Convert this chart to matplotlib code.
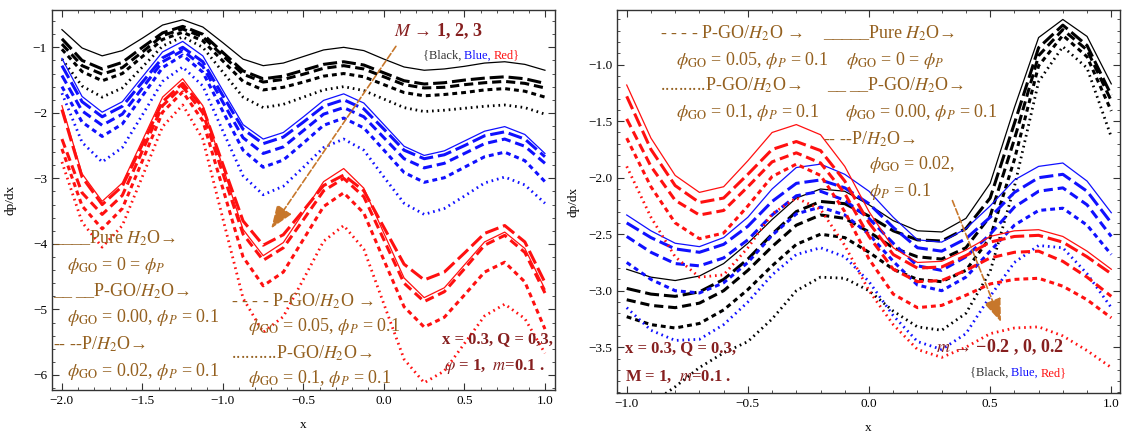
import matplotlib.pyplot as plt
from matplotlib.ticker import MultipleLocator, FuncFormatter

plt.rcParams['font.family'] = ['Liberation Serif', 'DejaVu Serif']
plt.rcParams['mathtext.fontset'] = 'stix'

# ---- left panel: M = 1, 2, 3 (black, blue, red) ----
x_left = [-2.0, -1.875, -1.75, -1.625, -1.5, -1.375, -1.25, -1.125, -1.0, -0.875, -0.75, -0.625,
          -0.5, -0.375, -0.25, -0.125, 0.0, 0.125, 0.25, 0.375, 0.5, 0.625, 0.75, 0.875, 1.0]

l_black_pure = [-0.73, -1.01, -1.13, -1.05, -0.86, -0.66, -0.58, -0.69, -0.93, -1.18, -1.28, -1.24, -1.14, -1.04, -1.00, -1.05, -1.18, -1.30, -1.35, -1.33, -1.29, -1.24, -1.22, -1.26, -1.35]
l_black_go000 = [-0.87, -1.20, -1.33, -1.23, -1.00, -0.78, -0.68, -0.80, -1.08, -1.36, -1.48, -1.44, -1.35, -1.26, -1.22, -1.27, -1.39, -1.51, -1.56, -1.54, -1.50, -1.47, -1.45, -1.48, -1.55]
l_black_p002 = [-0.95, -1.28, -1.41, -1.31, -1.07, -0.82, -0.72, -0.84, -1.13, -1.41, -1.53, -1.49, -1.41, -1.32, -1.28, -1.33, -1.45, -1.57, -1.62, -1.61, -1.57, -1.54, -1.52, -1.55, -1.62]
l_black_go005 = [-1.03, -1.37, -1.51, -1.40, -1.14, -0.88, -0.77, -0.90, -1.21, -1.52, -1.65, -1.61, -1.53, -1.44, -1.40, -1.45, -1.57, -1.69, -1.74, -1.72, -1.69, -1.65, -1.63, -1.67, -1.76]
l_black_go01 = [-1.18, -1.59, -1.76, -1.62, -1.30, -0.98, -0.84, -1.00, -1.38, -1.76, -1.92, -1.87, -1.76, -1.65, -1.60, -1.66, -1.79, -1.92, -1.98, -1.96, -1.93, -1.90, -1.88, -1.92, -2.02]

l_blue_pure = [-1.17, -1.75, -1.99, -1.83, -1.45, -1.07, -0.91, -1.13, -1.66, -2.18, -2.40, -2.30, -2.06, -1.81, -1.71, -1.85, -2.18, -2.51, -2.65, -2.58, -2.43, -2.28, -2.21, -2.33, -2.62]
l_blue_go000 = [-1.28, -1.83, -2.06, -1.90, -1.53, -1.16, -1.00, -1.22, -1.74, -2.25, -2.47, -2.37, -2.14, -1.90, -1.80, -1.94, -2.25, -2.57, -2.70, -2.64, -2.50, -2.35, -2.29, -2.40, -2.67]
l_blue_p002 = [-1.43, -1.97, -2.19, -2.02, -1.62, -1.22, -1.05, -1.29, -1.84, -2.38, -2.62, -2.52, -2.27, -2.02, -1.92, -2.06, -2.38, -2.70, -2.84, -2.77, -2.62, -2.47, -2.40, -2.51, -2.77]
l_blue_go005 = [-1.60, -2.14, -2.36, -2.17, -1.74, -1.31, -1.12, -1.38, -1.98, -2.57, -2.83, -2.72, -2.46, -2.19, -2.08, -2.23, -2.57, -2.91, -3.06, -2.99, -2.83, -2.67, -2.60, -2.73, -3.05]
l_blue_go01 = [-1.70, -2.45, -2.75, -2.53, -2.03, -1.52, -1.30, -1.59, -2.28, -2.96, -3.25, -3.12, -2.83, -2.53, -2.40, -2.57, -2.98, -3.38, -3.55, -3.46, -3.27, -3.07, -2.98, -3.10, -3.38]

l_red_pure = [-1.89, -2.93, -3.35, -3.07, -2.42, -1.76, -1.48, -1.89, -2.83, -3.78, -4.18, -3.98, -3.52, -3.05, -2.85, -3.15, -3.84, -4.52, -4.82, -4.67, -4.32, -3.97, -3.82, -4.07, -4.69]
l_red_go000 = [-1.95, -2.98, -3.40, -3.12, -2.48, -1.83, -1.55, -1.92, -2.79, -3.65, -4.02, -3.86, -3.49, -3.11, -2.95, -3.19, -3.75, -4.31, -4.55, -4.43, -4.14, -3.84, -3.72, -3.97, -4.59]
l_red_p002 = [-2.40, -3.22, -3.55, -3.26, -2.58, -1.89, -1.60, -2.00, -2.93, -3.85, -4.25, -4.06, -3.63, -3.19, -3.00, -3.28, -3.94, -4.60, -4.88, -4.73, -4.38, -4.02, -3.87, -4.13, -4.75]
l_red_go005 = [-2.55, -3.42, -3.77, -3.46, -2.73, -1.99, -1.68, -2.12, -3.16, -4.20, -4.64, -4.43, -3.93, -3.43, -3.22, -3.53, -4.25, -4.96, -5.27, -5.12, -4.78, -4.43, -4.28, -4.58, -5.30]
l_red_go01 = [-2.75, -3.67, -4.05, -3.72, -2.97, -2.21, -1.88, -2.40, -3.62, -4.83, -5.35, -5.11, -4.54, -3.96, -3.72, -4.08, -4.92, -5.76, -6.12, -5.94, -5.52, -5.10, -4.92, -5.14, -5.67]

# ---- right panel: m = -0.2, 0, 0.2 (black, blue, red) ----
x_right = [-1.0, -0.9, -0.8, -0.7, -0.6, -0.5, -0.4, -0.3, -0.2, -0.1, 0.0,
           0.1, 0.2, 0.3, 0.4, 0.5, 0.6, 0.7, 0.8, 0.9, 1.0]

r_black_pure = [-2.81, -2.88, -2.91, -2.87, -2.76, -2.58, -2.37, -2.18, -2.10, -2.12, -2.24, -2.38, -2.47, -2.48, -2.36, -2.05, -1.38, -0.76, -0.60, -0.75, -1.17]
r_black_go000 = [-2.98, -3.03, -3.05, -3.01, -2.90, -2.72, -2.50, -2.30, -2.21, -2.23, -2.34, -2.47, -2.55, -2.56, -2.45, -2.18, -1.52, -0.85, -0.65, -0.83, -1.27]
r_black_p002 = [-3.08, -3.13, -3.15, -3.11, -3.00, -2.82, -2.61, -2.42, -2.33, -2.36, -2.48, -2.62, -2.70, -2.72, -2.62, -2.34, -1.66, -0.92, -0.69, -0.87, -1.32]
r_black_go005 = [-3.23, -3.30, -3.33, -3.29, -3.17, -2.99, -2.78, -2.59, -2.50, -2.53, -2.66, -2.81, -2.90, -2.92, -2.82, -2.53, -1.84, -1.01, -0.74, -0.93, -1.41]
r_black_go01 = [-4.10, -4.00, -3.85, -3.68, -3.55, -3.45, -3.25, -3.00, -2.88, -2.89, -3.00, -3.18, -3.32, -3.35, -3.20, -2.83, -2.08, -1.15, -0.84, -1.03, -1.64]

r_blue_pure = [-2.33, -2.47, -2.58, -2.61, -2.53, -2.35, -2.10, -1.91, -1.88, -1.97, -2.12, -2.35, -2.55, -2.57, -2.45, -2.25, -2.02, -1.90, -1.87, -2.03, -2.31]
r_blue_go000 = [-2.40, -2.53, -2.63, -2.66, -2.59, -2.43, -2.21, -2.05, -2.02, -2.09, -2.23, -2.44, -2.62, -2.65, -2.54, -2.35, -2.13, -2.00, -1.97, -2.12, -2.40]
r_blue_p002 = [-2.52, -2.66, -2.76, -2.78, -2.71, -2.55, -2.33, -2.16, -2.12, -2.20, -2.36, -2.58, -2.78, -2.82, -2.70, -2.50, -2.26, -2.12, -2.09, -2.24, -2.52]
r_blue_go005 = [-2.75, -2.90, -3.00, -3.02, -2.93, -2.75, -2.51, -2.32, -2.26, -2.33, -2.50, -2.74, -2.95, -3.00, -2.88, -2.65, -2.42, -2.29, -2.27, -2.42, -2.68]
r_blue_go01 = [-3.15, -3.35, -3.44, -3.43, -3.30, -3.10, -2.86, -2.68, -2.62, -2.70, -2.92, -3.22, -3.45, -3.52, -3.38, -3.05, -2.75, -2.60, -2.62, -2.85, -3.15]

r_red_pure = [-1.18, -1.65, -1.98, -2.13, -2.08, -1.85, -1.60, -1.53, -1.62, -1.90, -2.30, -2.62, -2.75, -2.74, -2.64, -2.52, -2.47, -2.46, -2.52, -2.65, -2.81]
r_red_go000 = [-1.28, -1.75, -2.07, -2.22, -2.18, -1.97, -1.75, -1.68, -1.76, -2.03, -2.40, -2.68, -2.80, -2.79, -2.69, -2.57, -2.52, -2.51, -2.57, -2.70, -2.85]
r_red_p002 = [-1.48, -1.90, -2.20, -2.33, -2.29, -2.08, -1.86, -1.78, -1.87, -2.14, -2.52, -2.81, -2.92, -2.91, -2.82, -2.71, -2.66, -2.65, -2.74, -2.88, -3.05]
r_red_go005 = [-1.65, -2.08, -2.40, -2.54, -2.49, -2.25, -1.99, -1.88, -1.98, -2.30, -2.72, -3.03, -3.15, -3.13, -3.04, -2.94, -2.90, -2.89, -2.96, -3.08, -3.24]
r_red_go01 = [-1.90, -2.35, -2.70, -2.88, -2.86, -2.62, -2.32, -2.18, -2.28, -2.60, -3.00, -3.30, -3.52, -3.59, -3.50, -3.38, -3.33, -3.32, -3.40, -3.53, -3.68]

# line style per nanofluid case
styles = {
    'pure': dict(linestyle='-', linewidth=0.9),
    'go000': dict(linestyle=(0, (4.6, 1.6)), linewidth=2.2),
    'p002': dict(linestyle=(0, (3.0, 1.6)), linewidth=2.2),
    'go005': dict(linestyle=(0, (1.6, 1.3)), linewidth=2.2),
    'go01': dict(linestyle=(0, (0.6, 1.4)), linewidth=2.0),
}

left_curves = [
    ('black', 'pure', l_black_pure), ('black', 'go000', l_black_go000), ('black', 'p002', l_black_p002),
    ('black', 'go005', l_black_go005), ('black', 'go01', l_black_go01),
    ('blue', 'pure', l_blue_pure), ('blue', 'go000', l_blue_go000), ('blue', 'p002', l_blue_p002),
    ('blue', 'go005', l_blue_go005), ('blue', 'go01', l_blue_go01),
    ('red', 'pure', l_red_pure), ('red', 'go000', l_red_go000), ('red', 'p002', l_red_p002),
    ('red', 'go005', l_red_go005), ('red', 'go01', l_red_go01),
]
right_curves = [
    ('black', 'pure', r_black_pure), ('black', 'go000', r_black_go000), ('black', 'p002', r_black_p002),
    ('black', 'go005', r_black_go005), ('black', 'go01', r_black_go01),
    ('blue', 'pure', r_blue_pure), ('blue', 'go000', r_blue_go000), ('blue', 'p002', r_blue_p002),
    ('blue', 'go005', r_blue_go005), ('blue', 'go01', r_blue_go01),
    ('red', 'pure', r_red_pure), ('red', 'go000', r_red_go000), ('red', 'p002', r_red_p002),
    ('red', 'go005', r_red_go005), ('red', 'go01', r_red_go01),
]

brown = '#94601F'
maroon = '#861F1F'
arrow_c = '#C7772B'
lcol = {'black': 'black', 'blue': '#1010FF', 'red': '#FF1010'}

fig = plt.figure(figsize=(11.27, 4.34), dpi=100)
ax1 = fig.add_axes([0.0461, 0.1014, 0.4463, 0.8756])
ax2 = fig.add_axes([0.5475, 0.0945, 0.4463, 0.8825])

for c, key, y in left_curves:
    ax1.plot(x_left, y, color=lcol[c], **styles[key])
for c, key, y in right_curves:
    ax2.plot(x_right, y, color=lcol[c], **styles[key])

ax1.set_xlim(-2.062, 1.062)
ax1.set_ylim(-6.23, -0.43)
ax2.set_xlim(-1.04, 1.036)
ax2.set_ylim(-3.905, -0.516)

fmt1 = FuncFormatter(lambda v, p: f'{v:.1f}'.replace('-', '\u2212'))
fmt0 = FuncFormatter(lambda v, p: f'{v:.0f}'.replace('-', '\u2212'))

ax1.xaxis.set_major_locator(MultipleLocator(0.5))
ax1.xaxis.set_minor_locator(MultipleLocator(0.1))
ax1.yaxis.set_major_locator(MultipleLocator(1))
ax1.yaxis.set_minor_locator(MultipleLocator(0.2))
ax1.xaxis.set_major_formatter(fmt1)
ax1.yaxis.set_major_formatter(fmt0)
ax2.xaxis.set_major_locator(MultipleLocator(0.5))
ax2.xaxis.set_minor_locator(MultipleLocator(0.1))
ax2.yaxis.set_major_locator(MultipleLocator(0.5))
ax2.yaxis.set_minor_locator(MultipleLocator(0.1))
ax2.xaxis.set_major_formatter(fmt1)
ax2.yaxis.set_major_formatter(fmt1)

for ax in (ax1, ax2):
    ax.tick_params(which='both', direction='in', top=True, right=True, labelsize=9.5, color='#333333')
    ax.tick_params(which='major', length=5, width=0.8)
    ax.tick_params(which='minor', length=2.5, width=0.6)
    for sp in ax.spines.values():
        sp.set_linewidth(1.0)
        sp.set_color('#333333')
    ax.set_xlabel('x', fontsize=9.5, labelpad=9)
ax1.set_ylabel('dp/dx', fontsize=9.5, labelpad=12)
ax2.set_ylabel('dp/dx', fontsize=9.5, labelpad=6)


def color_list(ax, x, y, size):
    # "{Black, Blue, Red}" written word by word in its colour
    t = ax.text(x, y, '{Black, ', color='#333333', fontsize=size, va='bottom')
    t = ax.annotate('Blue, ', xy=(1, 0), xycoords=t, color='#1010FF', fontsize=size, va='bottom')
    ax.annotate('Red}', xy=(1, 0), xycoords=t, color='#FF1010', fontsize=size, va='bottom')


fs = 13
# left panel annotations
ax1.text(0.062, -0.75, '$M$ → 1, 2, 3', color=maroon, fontsize=13, fontweight='bold', va='center')
color_list(ax1, 0.24, -1.22, 9)
ax1.annotate('', xy=(-0.71, -3.80), xytext=(0.084, -0.95),
             arrowprops=dict(arrowstyle='-|>,head_length=0.8,head_width=0.3', linestyle='--',
                             color=arrow_c, lw=1.2, mutation_scale=18))

ax1.text(-2.057, -3.92, '____Pure $H_2$O→', color=brown, fontsize=fs, va='center')
ax1.text(-1.967, -4.33, r'$\phi_{\mathrm{GO}}$ = 0 = $\phi_P$', color=brown, fontsize=fs, va='center')
ax1.text(-2.057, -4.72, '__ __P-GO/$H_2$O→', color=brown, fontsize=fs, va='center')
ax1.text(-1.967, -5.13, r'$\phi_{\mathrm{GO}}$ = 0.00, $\phi_P$ = 0.1', color=brown, fontsize=fs, va='center')
ax1.text(-2.057, -5.54, '-- --P/$H_2$O→', color=brown, fontsize=fs, va='center')
ax1.text(-1.967, -5.95, r'$\phi_{\mathrm{GO}}$ = 0.02, $\phi_P$ = 0.1', color=brown, fontsize=fs, va='center')
ax1.text(-0.947, -4.87, '- - - - P-GO/$H_2$O →', color=brown, fontsize=fs, va='center')
ax1.text(-0.847, -5.26, r'$\phi_{\mathrm{GO}}$ = 0.05, $\phi_P$ = 0.1', color=brown, fontsize=fs, va='center')
ax1.text(-0.947, -5.67, '..........P-GO/$H_2$O→', color=brown, fontsize=fs, va='center')
ax1.text(-0.847, -6.05, r'$\phi_{\mathrm{GO}}$ = 0.1, $\phi_P$ = 0.1', color=brown, fontsize=fs, va='center')
ax1.text(0.361, -5.46, 'x = 0.3, Q = 0,3,', color=maroon, fontsize=12, fontweight='bold', va='center')
ax1.text(0.372, -5.87, r'$\varphi$ = 1,  $m$=0.1 .', color=maroon, fontsize=12, fontweight='bold', va='center')

# right panel annotations
ax2.text(-0.861, -0.724, '- - - - P-GO/$H_2$O →', color=brown, fontsize=fs, va='center')
ax2.text(-0.796, -0.96, r'$\phi_{\mathrm{GO}}$ = 0.05, $\phi_P$ = 0.1', color=brown, fontsize=fs, va='center')
ax2.text(-0.861, -1.18, '..........P-GO/$H_2$O→', color=brown, fontsize=fs, va='center')
ax2.text(-0.796, -1.42, r'$\phi_{\mathrm{GO}}$ = 0.1, $\phi_P$ = 0.1', color=brown, fontsize=fs, va='center')
ax2.text(-0.19, -0.724, '_____Pure $H_2$O→', color=brown, fontsize=fs, va='center')
ax2.text(-0.095, -0.96, r'$\phi_{\mathrm{GO}}$ = 0 = $\phi_P$', color=brown, fontsize=fs, va='center')
ax2.text(-0.175, -1.18, '__ __P-GO/$H_2$O→', color=brown, fontsize=fs, va='center')
ax2.text(-0.10, -1.42, r'$\phi_{\mathrm{GO}}$ = 0.00, $\phi_P$ = 0.1', color=brown, fontsize=fs, va='center')
ax2.text(-0.19, -1.66, '-- --P/$H_2$O→', color=brown, fontsize=fs, va='center')
ax2.text(0.0, -1.88, r'$\phi_{\mathrm{GO}}$ = 0.02,', color=brown, fontsize=fs, va='center')
ax2.text(0.0, -2.12, r'$\phi_P$ = 0.1', color=brown, fontsize=fs, va='center')
ax2.text(0.277, -3.50, '$m$ → −0.2 , 0, 0.2', color=maroon, fontsize=13, fontweight='bold', va='center')
color_list(ax2, 0.416, -3.78, 9)
ax2.text(-1.007, -3.51, 'x = 0.3, Q = 0.3,', color=maroon, fontsize=12, fontweight='bold', va='center')
ax2.text(-1.007, -3.76, 'M = 1,  $m$=0.1 .', color=maroon, fontsize=12, fontweight='bold', va='center')
ax2.annotate('', xy=(0.549, -3.30), xytext=(0.34, -2.18),
             arrowprops=dict(arrowstyle='-|>,head_length=0.8,head_width=0.3', linestyle='--',
                             color=arrow_c, lw=1.2, mutation_scale=18))

fig.savefig('out.png', dpi=100)
